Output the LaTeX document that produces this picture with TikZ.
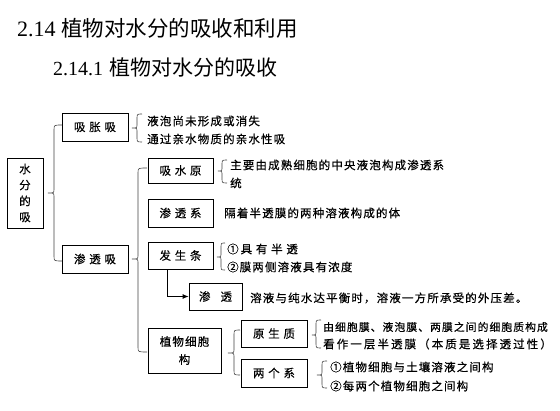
\documentclass[tikz,border=0pt]{standalone}
\usepackage{fontspec}
\setmainfont{Liberation Serif}
\newfontfamily\cjk[LetterSpace=10,FakeBold=0.4]{Noto Sans CJK SC}
\newfontfamily\cjkt{Noto Sans CJK SC}
\usetikzlibrary{arrows.meta}
\newcommand{\bodyf}{\cjk\fontsize{11.5}{16}\selectfont}
\newcommand{\brc}[6]{% tip x, line x, end x, top y, mid y, bottom y
  \draw[brcline] (#3,#4) .. controls (#2,#4) .. (#2,#4+5) -- (#2,#5-4)
    .. controls (#2,#5) .. (#1,#5) .. controls (#2,#5) .. (#2,#5+4)
    -- (#2,#6-5) .. controls (#2,#6) .. (#3,#6);}
\tikzset{
  bx/.style={draw=black, line width=0.8pt, inner sep=0pt, font=\bodyf, align=center},
  tx/.style={anchor=west, inner sep=0pt, font=\bodyf},
  brcline/.style={draw=black!75, line width=0.6pt},
}
\begin{document}
\begin{tikzpicture}[x=1pt,y=-1pt]
\useasboundingbox (0,0) rectangle (560,411);
% titles
\node[anchor=west, inner sep=0pt] (t1) at (17,28) {\fontsize{22}{24}\selectfont 2.14 {\cjkt\fontsize{21.5}{24}\selectfont 植物对水分的吸收和利用}};
\node[anchor=west, inner sep=0pt] (t2) at (53,68) {\fontsize{20}{22}\selectfont 2.14.1\hspace{6pt}{\cjkt\fontsize{21}{22}\selectfont 植物对水分的吸收}};
% boxes
\node[bx, minimum width=36pt, minimum height=70pt] (water) at (25,193) {水\\分\\的\\吸};
\node[bx, minimum width=66pt, minimum height=28pt] (xzx) at (95,127) {吸 胀 吸};
\node[bx, minimum width=66pt, minimum height=28pt] (stx) at (95,259) {渗 透 吸};
\node[bx, minimum width=65pt, minimum height=25pt] (xsy) at (180.5,170.5) {吸 水 原};
\node[bx, minimum width=65pt, minimum height=28pt] (stxi) at (180.5,213) {渗 透 系};
\node[bx, minimum width=65pt, minimum height=27pt] (fst) at (180.5,255.5) {发 生 条};
\node[bx, minimum width=53pt, minimum height=27pt] (st) at (215.5,296.5) {渗\hspace{10pt}透};
\node[bx, minimum width=73pt, minimum height=45pt, font=\cjk\fontsize{11.5}{18}\selectfont] (zw) at (184.5,350.5) {植物细胞\\构};
\node[bx, minimum width=66pt, minimum height=27pt] (ysz) at (274,333.5) {原 生 质};
\node[bx, minimum width=66pt, minimum height=28pt] (lgx) at (274,373) {两 个 系};
% texts
\node[tx] (a1) at (147,121) {液泡尚未形成或消失};
\node[tx] (a2) at (147,139) {通过亲水物质的亲水性吸};
\node[tx] (b1) at (230,165) {主要由成熟细胞的中央液泡构成渗透系};
\node[tx] (b2) at (230,183) {统};
\node[tx] (c1) at (224,213) {隔着半透膜的两种溶液构成的体};
\node[tx] (d1) at (227,249) {①\hspace{2pt}具 有 半 透};
\node[tx] (d2) at (227,267) {②\hspace{1pt}膜两侧溶液具有浓度};
\node[tx] (e1) at (250,298) {溶液与纯水达平衡时，溶液一方所承受的外压差。};
\node[tx, font=\cjk\fontsize{10.8}{14}\selectfont] (f1) at (323,327) {由细胞膜、液泡膜、两膜之间的细胞质构成};
\node[tx, font=\cjk\addfontfeature{LetterSpace=18}\fontsize{11.5}{14}\selectfont] (f2) at (323,344) {看作一层半透膜（本质是选择透过性）};
\node[tx] (g1) at (330,367) {①植物细胞与土壤溶液之间构};
\node[tx] (g2) at (330,386) {②每两个植物细胞之间构};
% braces
\brc{48}{54}{62}{125}{193}{261}
\brc{132}{138}{147}{168}{259}{352}
\brc{132}{137}{142}{114}{128}{142}
\brc{218}{222}{227}{160}{171}{183}
\brc{217}{221}{225}{243}{257}{270}
\brc{228}{234}{240}{330}{353}{375}
\brc{312}{316}{321}{320}{335}{348}
\brc{317}{322}{327}{361}{375}{388}
% arrow
\draw[line width=0.8pt, -{Latex[length=6pt,width=5pt]}] ([xshift=-13.5pt]fst.south) |- (st.west);
\end{tikzpicture}
\end{document}
